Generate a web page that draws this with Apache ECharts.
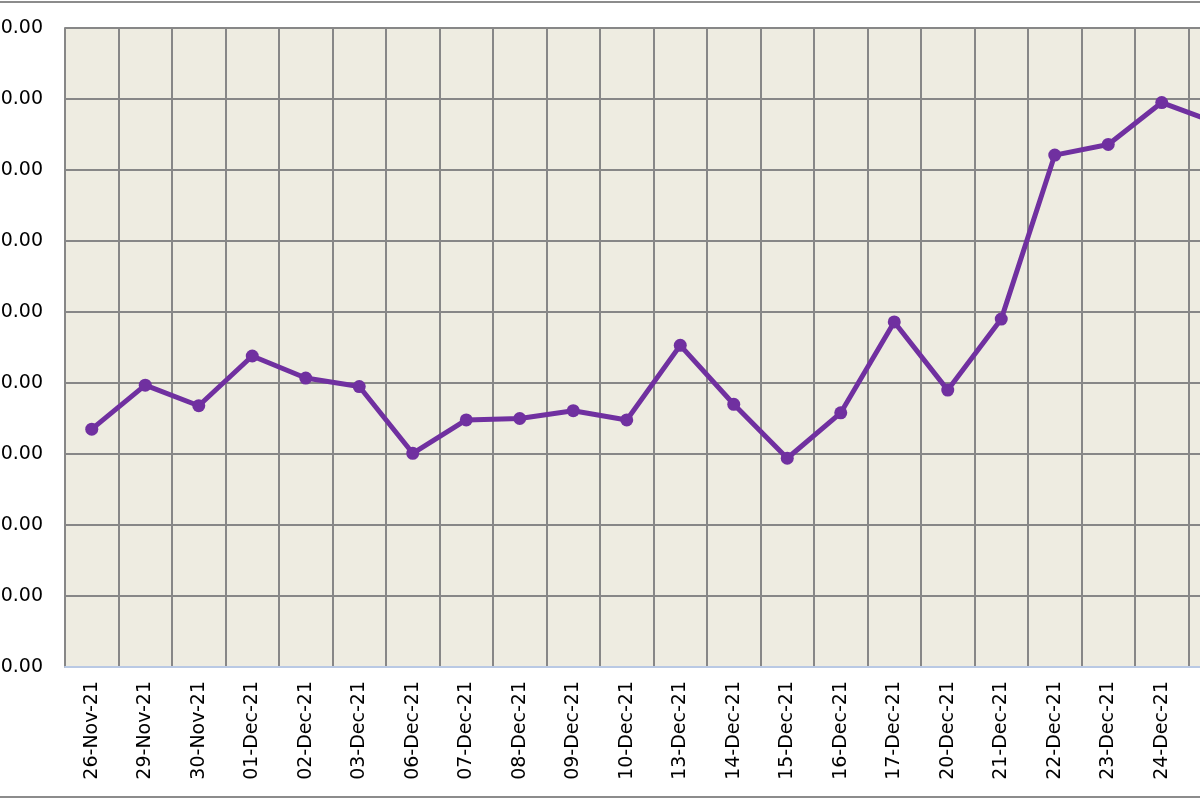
<!DOCTYPE html>
<html>
<head>
<meta charset="utf-8">
<script src="https://cdn.jsdelivr.net/npm/echarts@6/dist/echarts.min.js"></script>
<style>
  html, body { margin: 0; padding: 0; background: #fff; overflow: hidden; }
  /* the picture is a crop: the plot runs on past the right edge */
  #chart { width: 1300px; height: 800px; }
</style>
</head>
<body>
<div id="chart"></div>
<script>
// dates on the category axis (last one is only partly visible)
var dates = ['26-Nov-21', '29-Nov-21', '30-Nov-21', '01-Dec-21', '02-Dec-21', '03-Dec-21',
    '06-Dec-21', '07-Dec-21', '08-Dec-21', '09-Dec-21', '10-Dec-21', '13-Dec-21',
    '14-Dec-21', '15-Dec-21', '16-Dec-21', '17-Dec-21', '20-Dec-21', '21-Dec-21',
    '22-Dec-21', '23-Dec-21', '24-Dec-21', '27-Dec-21'];

// closing values
var closes = [133.5, 139.7, 136.8, 143.8, 140.7, 139.5,
    130.1, 134.8, 135.0, 136.1, 134.8, 145.3,
    137.0, 129.4, 135.8, 148.6, 139.0, 149.0,
    172.1, 173.6, 179.5, 176.7];

// value axis range
var yMin = 100, yMax = 190, yStep = 10;

var myChart = echarts.init(document.getElementById('chart'));

var option = {
    animation: false,
    backgroundColor: '#ffffff',
    textStyle: { fontFamily: 'DejaVu Sans' },
    graphic: [{
        type: 'rect',
        shape: { x: -10, y: 2, width: 1320, height: 795 },
        style: { fill: 'none', stroke: '#8c8c8c', lineWidth: 2 },
        z: -1
    }],
    grid: {
        left: 65,
        top: 28,
        bottom: 133,
        right: 58,
        containLabel: false,
        outerBoundsMode: 'none',
        show: true,
        backgroundColor: '#eeece1',
        borderWidth: 0
    },
    xAxis: {
        type: 'category',
        data: dates,
        boundaryGap: true,
        axisLine: { show: true, lineStyle: { color: '#b9c9e4', width: 2 } },
        axisTick: { show: false },
        axisLabel: {
            rotate: 90,
            margin: 14,
            color: '#000',
            fontSize: 19,
            fontFamily: 'DejaVu Sans',
            interval: 0
        },
        splitLine: { show: true, lineStyle: { color: '#878787', width: 2 } }
    },
    yAxis: {
        type: 'value',
        min: yMin,
        max: yMax,
        interval: yStep,
        axisLine: { show: true, lineStyle: { color: '#878787', width: 2 } },
        axisTick: { show: false },
        axisLabel: {
            margin: 22,
            color: '#000',
            fontSize: 19,
            fontFamily: 'DejaVu Sans',
            formatter: function (v) { return v.toFixed(2); }
        },
        splitLine: { show: true, lineStyle: { color: '#878787', width: 2 } }
    },
    series: [{
        name: 'Close',
        type: 'line',
        data: closes,
        symbol: 'circle',
        symbolSize: 13,
        lineStyle: { color: '#7030a0', width: 5 },
        itemStyle: { color: '#7030a0' }
    }]
};

myChart.setOption(option);
</script>
</body>
</html>
